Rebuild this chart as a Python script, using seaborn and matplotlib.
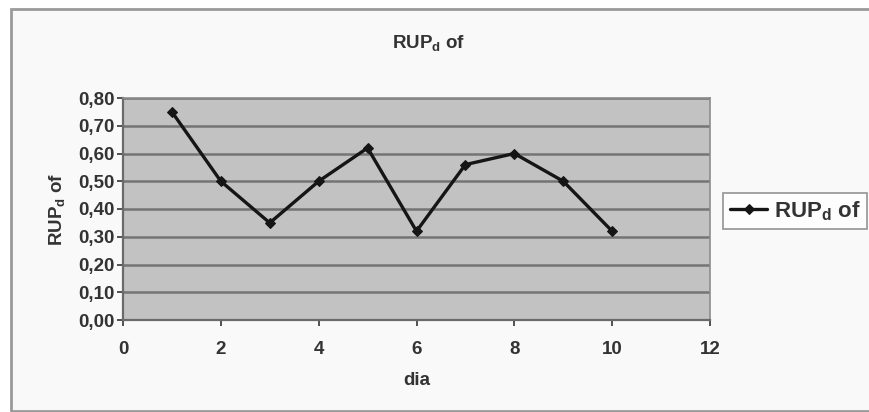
import matplotlib
matplotlib.use("Agg")
import matplotlib.pyplot as plt
from matplotlib.patches import Rectangle
import seaborn as sns
import pandas as pd

dia = [1, 2, 3, 4, 5, 6, 7, 8, 9, 10]
rupd_of = [0.75, 0.50, 0.35, 0.50, 0.62, 0.32, 0.56, 0.60, 0.50, 0.32]
y_ticks = [0.0, 0.1, 0.2, 0.3, 0.4, 0.5, 0.6, 0.7, 0.8]
y_tick_labels = ["0,00", "0,10", "0,20", "0,30", "0,40", "0,50", "0,60", "0,70", "0,80"]
x_ticks = [0, 2, 4, 6, 8, 10, 12]
label = r"RUP$_{\mathregular{d}}$ of"

sns.set_theme(style="white")
plt.rcParams["font.family"] = ["Liberation Sans", "DejaVu Sans"]
plt.rcParams["font.weight"] = "bold"
plt.rcParams["axes.labelweight"] = "bold"
plt.rcParams["mathtext.fontset"] = "custom"
plt.rcParams["mathtext.rm"] = "Liberation Sans:bold"
plt.rcParams["mathtext.default"] = "regular"

TXT = "#333333"
FS = 13.5

fig = plt.figure(figsize=(8.69, 4.12), dpi=100)
fig.patch.set_facecolor("white")

# outer chart frame
frame = Rectangle((11 / 869, 1 / 412), 1.0, 1 - 10 / 412, transform=fig.transFigure,
                  facecolor="#f9f9f9", edgecolor="#9a9a9a", linewidth=2.0, zorder=-10)
fig.patches.append(frame)

ax = fig.add_axes([123 / 869, 1 - 320 / 412, (710 - 123) / 869, (320 - 98) / 412])
ax.set_zorder(5)
ax.set_facecolor("#c2c2c2")

df = pd.DataFrame({"dia": dia, "RUPd of": rupd_of})
sns.lineplot(data=df, x="dia", y="RUPd of", ax=ax, color="#151515", linewidth=2.4,
             marker="D", markersize=5, markeredgecolor="#151515", label=label)

ax.set_xlim(0, 12)
ax.set_ylim(0, 0.8)
ax.set_xticks(x_ticks)
ax.set_yticks(y_ticks)
ax.set_yticklabels(y_tick_labels)
ax.yaxis.grid(True, color="#747474", linewidth=1.8)
ax.xaxis.grid(False)
ax.set_axisbelow(True)
for s in ["top", "right"]:
    ax.spines[s].set_color("#8c8c8c")
    ax.spines[s].set_linewidth(1.2)
for s in ["left", "bottom"]:
    ax.spines[s].set_color("#6a6a6a")
    ax.spines[s].set_linewidth(1.6)
ax.tick_params(axis="both", which="major", labelsize=FS, colors=TXT,
               length=4, width=1.2, direction="out", bottom=True, left=True)
ax.tick_params(axis="x", pad=11)
ax.tick_params(axis="y", pad=2)

ax.set_xlabel("dia", fontsize=FS, color=TXT, labelpad=10, fontweight="bold")
ax.set_ylabel(label, fontsize=FS, color=TXT, labelpad=8, fontweight="bold")
fig.text(429 / 869, 1 - 43 / 412, label, fontsize=FS, color=TXT,
         ha="center", va="center", fontweight="bold")

leg = ax.legend(loc="center left", bbox_to_anchor=(723 / 869, 1 - 211 / 412),
                bbox_transform=fig.transFigure, frameon=True, fancybox=False,
                fontsize=FS + 2.5, handlelength=1.7, handletextpad=0.3, borderpad=0.3,
                borderaxespad=0)
for t in leg.get_texts():
    t.set_color(TXT)
leg.get_frame().set_edgecolor("#7a7a7a")
leg.get_frame().set_linewidth(1.2)
leg.get_frame().set_facecolor("white")

fig.savefig("out.png", dpi=100)
